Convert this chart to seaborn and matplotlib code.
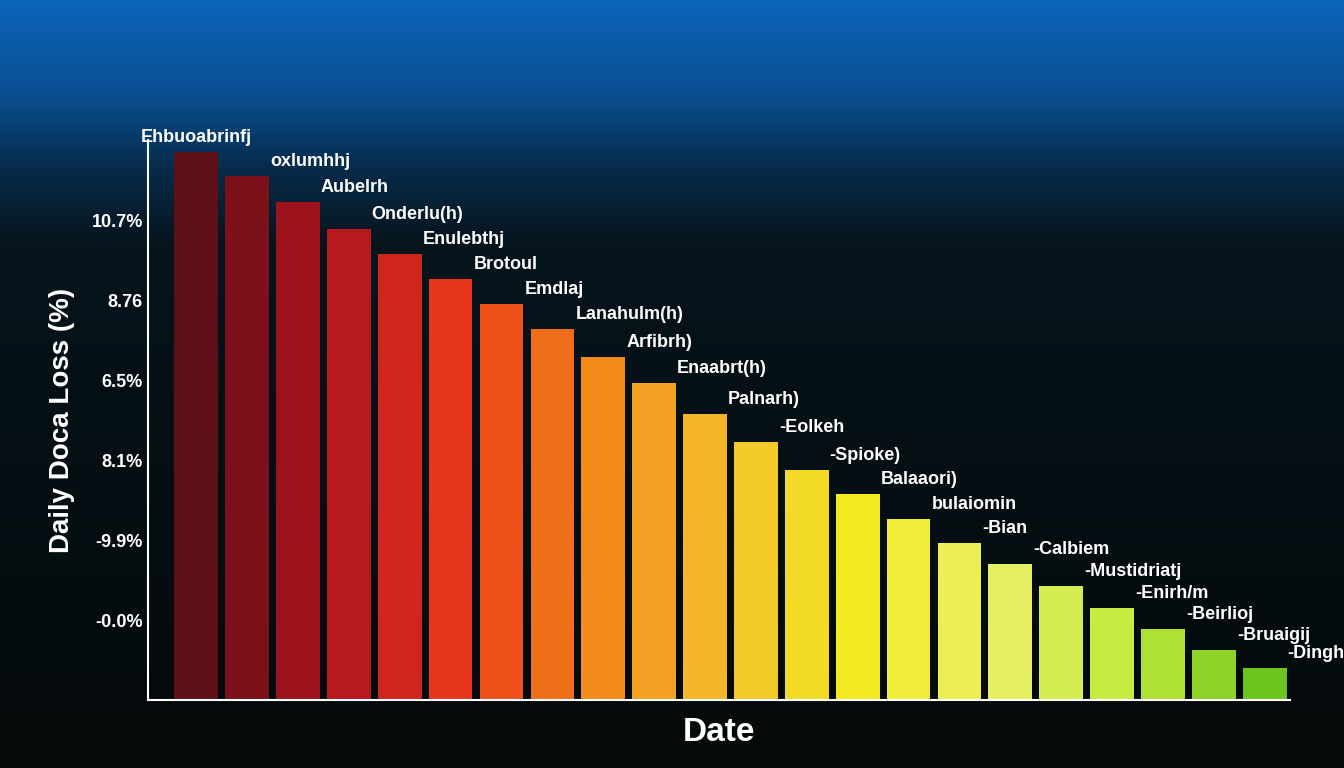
import numpy as np
import seaborn as sns
import matplotlib.pyplot as plt
from matplotlib.colors import LinearSegmentedColormap

bar_labels = ["Ehbuoabrinfj", "oxlumhhj", "Aubelrh", "Onderlu(h)", "Enulebthj", "Brotoul",
              "Emdlaj", "Lanahulm(h)", "Arfibrh)", "Enaabrt(h)", "Palnarh)", "-Eolkeh",
              "-Spioke)", "Balaaori)", "bulaiomin", "-Bian", "-Calbiem", "-Mustidriatj",
              "-Enirh/m", "-Beirlioj", "-Bruaigij", "-Dinghisj"]
loss = [13.7, 13.1, 12.45, 11.78, 11.15, 10.53, 9.9, 9.28, 8.58, 7.93, 7.15,
        6.45, 5.75, 5.15, 4.53, 3.93, 3.4, 2.85, 2.3, 1.78, 1.25, 0.8]
tick_pos = [2, 4, 6, 8, 10, 12]
tick_text = ["-0.0%", "-9.9%", "8.1%", "6.5%", "8.76", "10.7%"]

sns.set_style("white")
plt.rcParams['font.family'] = ['Liberation Sans', 'DejaVu Sans']

fig = plt.figure(figsize=(13.44, 7.68), dpi=100)
# background: blue glow at top fading to dark
bg = fig.add_axes([0, 0, 1, 1])
g = np.linspace(0, 1, 256)[:, None]
bgcmap = LinearSegmentedColormap.from_list(
    "bg", [(0, "#0a64b8"), (0.12, "#0a4f92"), (0.22, "#062a48"), (0.32, "#06141c"), (1, "#040909")])
bg.imshow(g, aspect='auto', cmap=bgcmap, extent=[0, 1, 0, 1])
bg.axis('off')

ax = fig.add_axes([0.110, 0.0885, 0.85, 0.729])
ax.set_facecolor('none')
cmap = LinearSegmentedColormap.from_list("bars", ["#5e0f18", "#b0141e", "#ee3a1c", "#f38a1a",
                                                  "#f4c12c", "#f3ec1e", "#e8f06a", "#c2ea3a", "#6cc41e"])
colors = [cmap(i / (len(loss) - 1)) for i in range(len(loss))]
x = np.arange(len(loss))
sns.barplot(x=x, y=loss, palette=colors, hue=x, legend=False, width=0.86, ax=ax,
            saturation=1, edgecolor='none')
ax.set_xlim(-0.95, len(loss) - 0.5 + 0.0)
ax.set_ylim(0, 14)
for i, (v, lab) in enumerate(zip(loss, bar_labels)):
    ax.text(i + 0.45 if i else i, v + 0.15, lab, color='white', fontsize=13,
            fontweight='bold', ha='left' if i else 'center', va='bottom')
ax.set_yticks(tick_pos)
ax.set_yticklabels(tick_text, color='white', fontsize=13, fontweight='bold')
ax.set_xticks([])
ax.tick_params(axis='y', colors='white', length=0)
for s in ['top', 'right']:
    ax.spines[s].set_visible(False)
for s in ['left', 'bottom']:
    ax.spines[s].set_color('white')
    ax.spines[s].set_linewidth(1.5)
ax.set_ylabel("Daily Doca Loss (%)", color='white', fontsize=20, fontweight='bold', labelpad=12)
ax.set_xlabel("Date", color='white', fontsize=24, fontweight='bold', labelpad=12)
fig.savefig("out.png", dpi=100)
